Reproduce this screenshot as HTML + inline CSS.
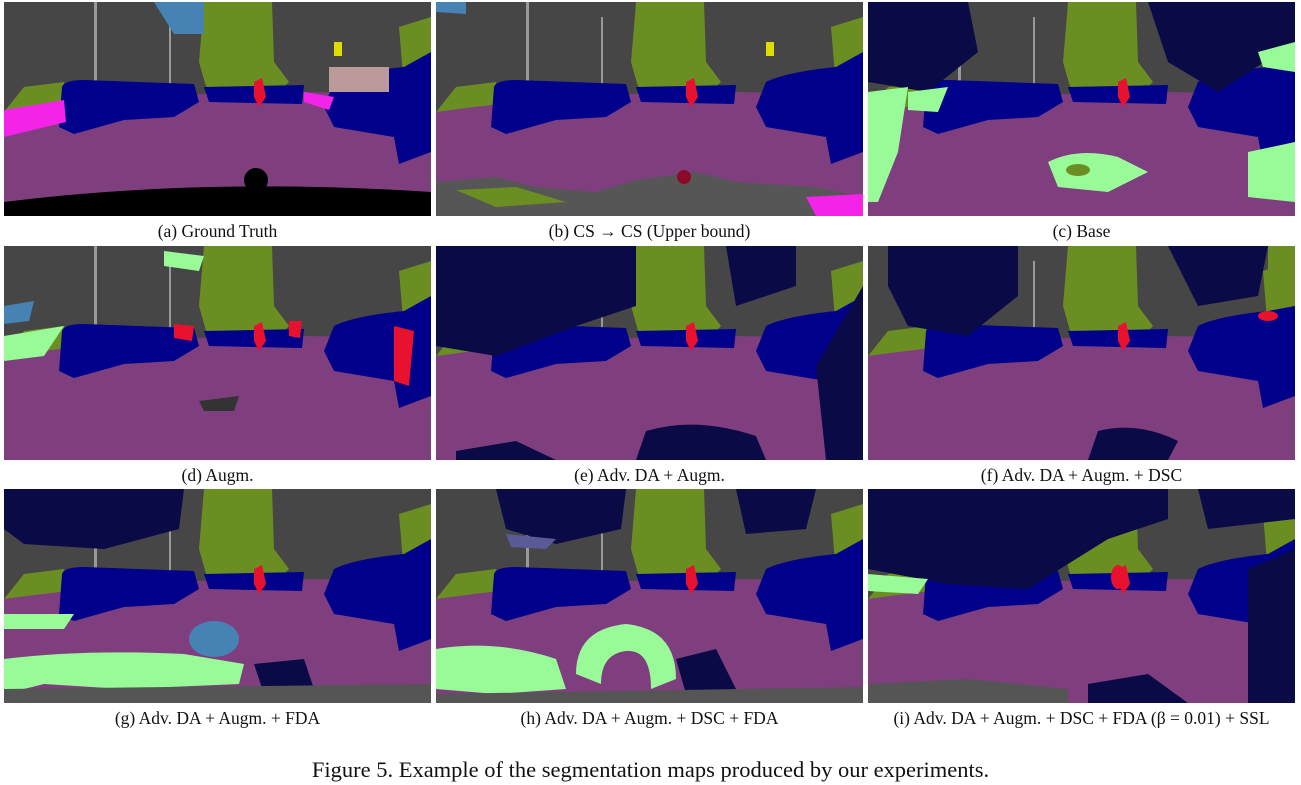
<!DOCTYPE html>
<html><head><meta charset="utf-8">
<style>
body{margin:0;background:#fff;width:1301px;height:785px;position:relative;overflow:hidden;font-family:"Liberation Serif",serif;}
.p{position:absolute;width:427px;height:214px;}
.cap{position:absolute;width:427px;text-align:center;font-size:17.5px;line-height:20px;color:#111;}
#fig{position:absolute;left:0;width:1301px;top:757px;text-align:center;font-size:22.5px;line-height:26px;color:#111;}
</style></head><body>
<div id="root"></div>
<div id="fig">Figure 5. Example of the segmentation maps produced by our experiments.</div>
<script>
const NS="http://www.w3.org/2000/svg";
const colsX=[4,436,868], rowsY=[2,246,489];
const captions=["(a) Ground Truth","(b) CS \u2192 CS (Upper bound)","(c) Base","(d) Augm.","(e) Adv. DA + Augm.","(f) Adv. DA + Augm. + DSC","(g) Adv. DA + Augm. + FDA","(h) Adv. DA + Augm. + DSC + FDA","(i) Adv. DA + Augm. + DSC + FDA (\u03B2 = 0.01) + SSL"];
const G="#464646",P="#7f3f7f",B="#00008b",V="#6b8e23",N="#0a0a46",L="#98fb98",S="#4682b4",R="#e8122e",M="#f423e8",LB="#5a5a96";
function base(){return `<rect width="427" height="214" fill="${G}"/>
<path d="M200,0 L268,0 L270,60 L285,80 L270,95 L205,95 L195,60Z" fill="${V}"/>
<path d="M395,25 L427,15 L427,80 L400,85Z" fill="${V}"/>
<path d="M0,110 L20,85 L60,80 L70,105Z" fill="${V}"/>
<rect x="90" y="0" width="3" height="80" fill="#999"/><rect x="165" y="15" width="2" height="70" fill="#999"/>
<path d="M0,110 Q213,80 427,95 L427,214 L0,214Z" fill="${P}"/>
<path d="M58,85 Q60,78 80,78 L190,82 L195,100 L170,115 L120,118 L70,132 L55,125Z" fill="${B}"/>
<path d="M200,85 L300,83 L298,102 L205,100Z" fill="${B}"/>
<path d="M330,80 Q350,70 400,65 L427,50 L427,150 L395,162 L390,135 L330,125 L320,105Z" fill="${B}"/>
<path d="M250,80 L258,76 L262,95 L255,105 L250,95Z" fill="${R}"/>`;}
const extras=[
`<rect x="325" y="65" width="60" height="25" fill="#bc9a9a"/><path d="M0,108 L60,98 L62,120 L0,135Z" fill="${M}"/><path d="M300,90 L330,95 L325,108 L300,100Z" fill="${M}"/><path d="M0,200 Q200,175 427,190 L427,214 L0,214Z" fill="#000"/><circle cx="252" cy="178" r="12" fill="#000"/><path d="M150,0 L200,0 L200,32 L170,32Z" fill="${S}"/><rect x="330" y="40" width="8" height="14" fill="#dd0"/>`,
`<path d="M0,180 L60,175 L100,185 L160,190 L200,178 L260,170 L300,180 L380,185 L427,195 L427,214 L0,214Z" fill="#565656"/><path d="M20,188 L80,185 L130,200 L60,205Z" fill="${V}"/><path d="M370,195 L427,192 L427,214 L380,214Z" fill="${M}"/><circle cx="248" cy="175" r="7" fill="#8b0a2a"/><path d="M0,0 L30,0 L30,12 L0,10Z" fill="${S}"/><rect x="330" y="40" width="8" height="14" fill="#dd0"/>`,
`<path d="M0,0 L100,0 L110,50 L60,90 L0,80Z" fill="${N}"/><path d="M280,0 L427,0 L427,40 L350,90 L300,60Z" fill="${N}"/><path d="M0,90 L40,85 L30,150 L10,200 L0,200Z" fill="${L}"/><path d="M180,160 Q210,145 250,155 L280,170 L240,190 L190,185Z" fill="${L}"/><path d="M380,150 L427,140 L427,200 L380,195Z" fill="${L}"/><path d="M40,90 L80,85 L70,110 L40,108Z" fill="${L}"/><ellipse cx="210" cy="168" rx="12" ry="6" fill="${V}"/><path d="M390,50 L427,40 L427,70 L395,65Z" fill="${L}"/>`,
`<path d="M160,5 L200,10 L195,25 L160,20Z" fill="${L}"/><path d="M0,90 L60,80 L40,110 L0,115Z" fill="${L}"/><path d="M170,78 L190,80 L188,95 L170,92Z" fill="${R}"/><path d="M285,75 L298,75 L296,92 L285,90Z" fill="${R}"/><path d="M390,80 L410,85 L405,140 L390,135Z" fill="${R}"/><path d="M195,155 L235,150 L230,165 L200,165Z" fill="#333"/><path d="M0,60 L30,55 L25,75 L0,78Z" fill="${S}"/>`,
`<path d="M0,0 L200,0 L200,60 L140,80 L60,110 L0,100Z" fill="${N}"/><path d="M290,0 L360,0 L360,40 L300,60Z" fill="${N}"/><path d="M380,120 L427,40 L427,214 L390,214Z" fill="${N}"/><path d="M210,185 Q260,170 320,190 L330,214 L200,214Z" fill="${N}"/><path d="M20,205 L80,195 L120,214 L20,214Z" fill="${N}"/>`,
`<path d="M20,0 L150,0 L150,50 L100,90 L40,80 L20,40Z" fill="${N}"/><path d="M300,0 L400,0 L390,50 L330,60Z" fill="${N}"/><path d="M230,185 Q270,175 310,195 L300,214 L220,214Z" fill="${N}"/><ellipse cx="400" cy="70" rx="10" ry="5" fill="${R}"/><path d="M400,0 L427,0 L427,60 L400,65Z" fill="${V}"/>`,
`<path d="M0,0 L180,0 L175,40 L100,60 L20,55 L0,40Z" fill="${N}"/><path d="M0,170 Q80,160 180,165 L240,175 L235,195 L120,200 L40,195 L0,205Z" fill="${L}"/><ellipse cx="210" cy="150" rx="25" ry="18" fill="${S}"/><path d="M0,125 L70,125 L60,140 L0,140Z" fill="${L}"/><path d="M250,175 L300,170 L310,200 L260,205Z" fill="${N}"/><path d="M0,200 L427,195 L427,214 L0,214Z" fill="#555"/>`,
`<path d="M60,0 L190,0 L185,40 L120,55 L70,40Z" fill="${N}"/><path d="M300,0 L380,0 L370,40 L310,45Z" fill="${N}"/><path d="M0,160 Q60,150 120,170 L130,200 L60,205 L0,200Z" fill="${L}"/><path d="M140,185 Q140,140 190,135 Q240,140 240,190 L215,200 Q215,160 190,162 Q165,165 165,195Z" fill="${L}"/><path d="M240,170 L280,160 L300,200 L250,205Z" fill="${N}"/><path d="M0,205 L427,198 L427,214 L0,214Z" fill="#555"/><path d="M70,45 L120,50 L110,60 L75,58Z" fill="${LB}"/>`,
`<path d="M0,0 L300,0 L300,30 L240,50 L160,100 L80,95 L0,80Z" fill="${N}"/><path d="M330,0 L427,0 L427,30 L340,40Z" fill="${N}"/><path d="M380,80 L427,60 L427,214 L380,214Z" fill="${N}"/><path d="M0,85 L60,90 L50,105 L0,102Z" fill="${L}"/><path d="M0,195 L100,190 L200,200 L200,214 L0,214Z" fill="#555"/><path d="M220,195 L280,185 L320,214 L220,214Z" fill="${N}"/><ellipse cx="250" cy="88" rx="7" ry="12" fill="${R}"/>`
];
const root=document.getElementById('root');
for(let i=0;i<9;i++){
  const x=colsX[i%3], y=rowsY[Math.floor(i/3)];
  const d=document.createElement('div');
  d.className='p';d.style.left=x+'px';d.style.top=y+'px';
  
  
  d.innerHTML=`<svg xmlns="${NS}" width="427" height="214" viewBox="0 0 427 214">${base()}${extras[i]}</svg>`;
  root.appendChild(d);
  const c=document.createElement('div');
  c.className='cap';c.style.left=x+'px';c.style.top=(y+219)+'px';
  c.textContent=captions[i];
  
  
  root.appendChild(c);
}
</script>
</body></html>
